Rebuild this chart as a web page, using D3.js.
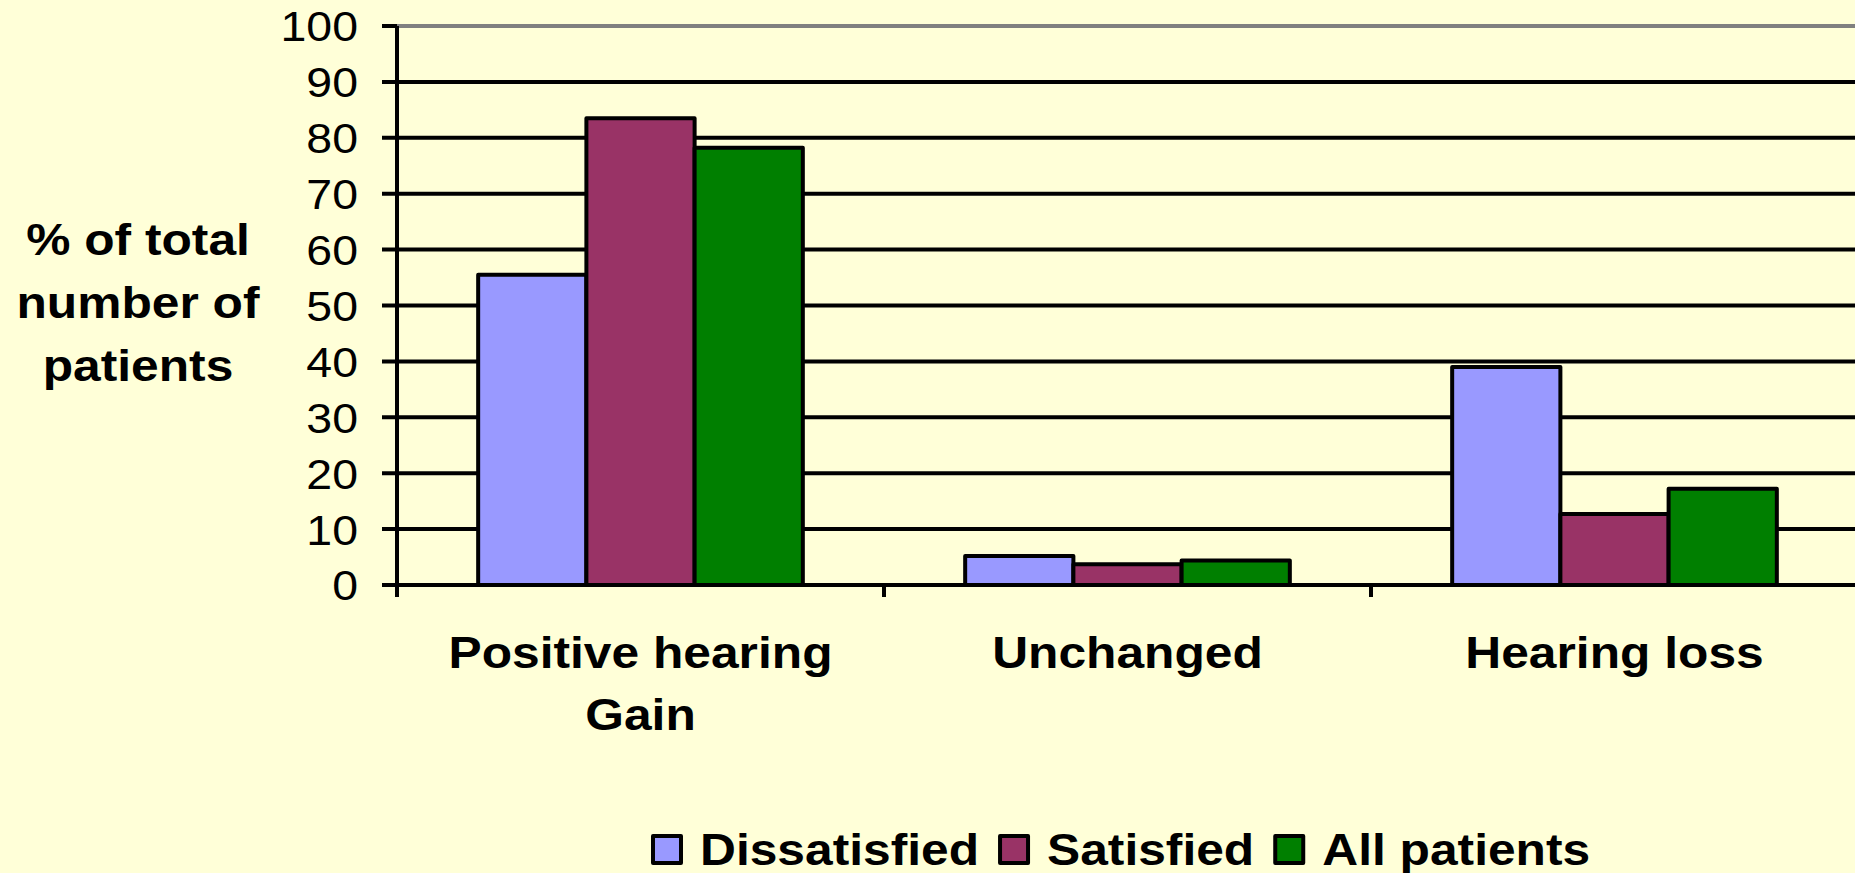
<!DOCTYPE html>
<html>
<head>
<meta charset="utf-8">
<script src="https://cdn.jsdelivr.net/npm/d3@7"></script>
<style>
  html, body { margin: 0; padding: 0; background: #FFFFD8; }
  svg { display: block; }
  text { font-family: "Liberation Sans", Arial, sans-serif; fill: #000; }
</style>
</head>
<body>
<svg id="chart"></svg>
<script>
// data
var categories = ['Positive hearing Gain', 'Unchanged', 'Hearing loss'];
var categoryLines = [['Positive hearing', 'Gain'], ['Unchanged'], ['Hearing loss']];
var seriesNames = ['Dissatisfied', 'Satisfied', 'All patients'];
var dissatisfied = [55.5, 5.2, 39.0];
var satisfied = [83.5, 3.7, 12.7];
var allPatients = [78.2, 4.4, 17.2];
var yTicks = [0, 10, 20, 30, 40, 50, 60, 70, 80, 90, 100];
var titleLines = ['% of total', 'number of', 'patients'];
var colors = ['#9999FF', '#993366', '#007F00'];

var width = 1855, height = 873;
var stretch = 1.13;   // text in the picture is a bit wide
var lineW = 4;

var svg = d3.select('#chart')
    .attr('width', width)
    .attr('height', height);

var series = [dissatisfied, satisfied, allPatients];

var x0 = d3.scaleBand()
    .domain(categories)
    .range([397, 397 + 3 * 487])
    .padding(0);

var barW = x0.bandwidth() / 4.5;
var x1 = d3.scaleBand()
    .domain(seriesNames)
    .range([barW * 0.75, barW * 3.75])
    .padding(0);

var y = d3.scaleLinear()
    .domain([0, 100])
    .range([585, 26]);

// gridlines (with the little ticks left of the axis)
svg.append('g').selectAll('line')
    .data(yTicks)
    .enter()
    .append('line')
    .attr('x1', x0.range()[0] - 15)
    .attr('x2', width)
    .attr('y1', function(d) { return y(d); })
    .attr('y2', function(d) { return y(d); })
    .attr('stroke', function(d) { return d === 100 ? '#808080' : '#000'; })
    .attr('stroke-width', lineW);

// black tick stub for 100 too
svg.append('line')
    .attr('x1', x0.range()[0] - 15)
    .attr('x2', x0.range()[0])
    .attr('y1', y(100)).attr('y2', y(100))
    .attr('stroke', '#000').attr('stroke-width', lineW);

// bars
var groups = svg.append('g').selectAll('g')
    .data(categories)
    .enter()
    .append('g')
    .attr('transform', function(d) { return 'translate(' + x0(d) + ',0)'; });

groups.selectAll('rect')
    .data(function(d, i) {
        return seriesNames.map(function(s, j) { return { name: s, value: series[j][i], idx: j }; });
    })
    .enter()
    .append('rect')
    .attr('x', function(d) { return x1(d.name); })
    .attr('width', x1.bandwidth())
    .attr('y', function(d) { return y(d.value); })
    .attr('height', function(d) { return y(0) - y(d.value); })
    .attr('fill', function(d) { return colors[d.idx]; })
    .attr('stroke', '#000')
    .attr('stroke-width', lineW)
    .attr('stroke-linejoin', 'round');

// axes lines
svg.append('line')
    .attr('x1', x0.range()[0]).attr('x2', x0.range()[0])
    .attr('y1', y(100)).attr('y2', y(0) + 12)
    .attr('stroke', '#000').attr('stroke-width', lineW);

svg.append('line')
    .attr('x1', x0.range()[0]).attr('x2', width)
    .attr('y1', y(0)).attr('y2', y(0))
    .attr('stroke', '#000').attr('stroke-width', lineW);

// category tick marks
svg.append('g').selectAll('line')
    .data(categories.slice(1))
    .enter()
    .append('line')
    .attr('x1', function(d) { return x0(d); })
    .attr('x2', function(d) { return x0(d); })
    .attr('y1', y(0)).attr('y2', y(0) + 12)
    .attr('stroke', '#000').attr('stroke-width', lineW);

// y tick labels
svg.append('g').selectAll('text')
    .data(yTicks)
    .enter()
    .append('text')
    .attr('transform', function(d) { return 'translate(358,' + y(d) + ') scale(1.08,1)'; })
    .attr('text-anchor', 'end')
    .attr('dy', '0.36em')
    .style('font-size', '43px')
    .text(function(d) { return d; });

// category labels
var catLabels = svg.append('g').selectAll('g')
    .data(categories)
    .enter()
    .append('g');

catLabels.selectAll('text')
    .data(function(d, i) { return categoryLines[i].map(function(t) { return { cat: d, text: t }; }); })
    .enter()
    .append('text')
    .attr('transform', function(d, k) {
        return 'translate(' + (x0(d.cat) + x0.bandwidth() / 2) + ',' + (668 + k * 62) + ') scale(' + stretch + ',1)';
    })
    .attr('text-anchor', 'middle')
    .style('font-size', '44px')
    .style('font-weight', 'bold')
    .text(function(d) { return d.text; });

// y title
svg.append('g').selectAll('text')
    .data(titleLines)
    .enter()
    .append('text')
    .attr('transform', function(d, i) { return 'translate(138,' + (255 + i * 63) + ') scale(' + stretch + ',1)'; })
    .attr('text-anchor', 'middle')
    .style('font-size', '44px')
    .style('font-weight', 'bold')
    .text(function(d) { return d; });

// legend
var legend = svg.append('g');
var lx = 653;
seriesNames.forEach(function(name, i) {
    legend.append('rect')
        .attr('x', lx).attr('y', 836)
        .attr('width', 28).attr('height', 27)
        .attr('fill', colors[i])
        .attr('stroke', '#000').attr('stroke-width', lineW)
        .attr('stroke-linejoin', 'round');
    var t = legend.append('text')
        .attr('transform', 'translate(' + (lx + 47) + ',865) scale(' + stretch + ',1)')
        .style('font-size', '44px')
        .style('font-weight', 'bold')
        .text(name);
    var w = t.node().getComputedTextLength() * stretch;
    lx = lx + 47 + w + 21;
});
</script>
</body>
</html>
